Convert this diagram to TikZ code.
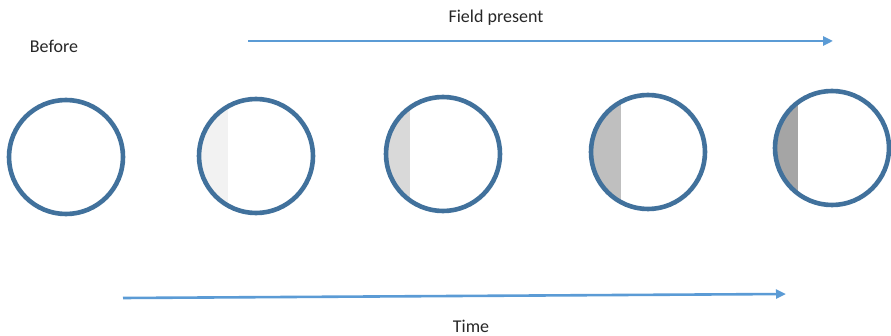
\documentclass[tikz,border=0pt]{standalone}
\usepackage{fontspec}
\setmainfont{Carlito}
\usetikzlibrary{arrows.meta}
\definecolor{ringblue}{HTML}{41719C}
\definecolor{arrowblue}{HTML}{5B9BD5}
\definecolor{shadeA}{HTML}{F2F2F2}
\definecolor{shadeB}{HTML}{D9D9D9}
\definecolor{shadeC}{HTML}{BFBFBF}
\definecolor{shadeD}{HTML}{A5A5A5}
\tikzset{
  ring/.style={circle, draw=ringblue, line width=4.6pt, minimum size=114pt, inner sep=0pt},
  timeline/.style={draw=arrowblue, line width=2.6pt, -{Triangle[length=10pt,width=9pt]}},
  caption/.style={font=\fontsize{18}{21}\selectfont, text=black!85, anchor=base, inner sep=0pt}
}

\begin{document}
\begin{tikzpicture}[x=1pt, y=-1pt]
  \useasboundingbox (0,0) rectangle (891,336);

  % Labels
  \node[caption] (before) at (54,53) {Before};
  \node[caption] (field) at (496,23) {Field present};
  \node[caption] (time) at (471,333) {Time};

  % Field arrow
  \coordinate (fieldstart) at (248,41);
  \coordinate (fieldend) at (833,41);
  \draw[timeline] (fieldstart) -- (fieldend);

  % Time arrow
  \coordinate (timestart) at (123,298);
  \coordinate (timeend) at (786,294);
  \draw[timeline] (timestart) -- (timeend);

  % Shaded parts inside the rings
  \begin{scope}
    \clip (256,156) circle (57pt);
    \fill[shadeA] (190,90) rectangle (228,225);
  \end{scope}
  \begin{scope}
    \clip (443,154) circle (57pt);
    \fill[shadeB] (380,90) rectangle (410,225);
  \end{scope}
  \begin{scope}
    \clip (648,152) circle (57pt);
    \fill[shadeC] (585,90) rectangle (621,225);
  \end{scope}
  \begin{scope}
    \clip (832,148) circle (57pt);
    \fill[shadeD] (770,85) rectangle (798,215);
  \end{scope}

  % Rings
  \node[ring] (ring1) at (66,157) {};
  \node[ring] (ring2) at (256,156) {};
  \node[ring] (ring3) at (443,154) {};
  \node[ring] (ring4) at (648,152) {};
  \node[ring] (ring5) at (832,148) {};
\end{tikzpicture}
\end{document}
